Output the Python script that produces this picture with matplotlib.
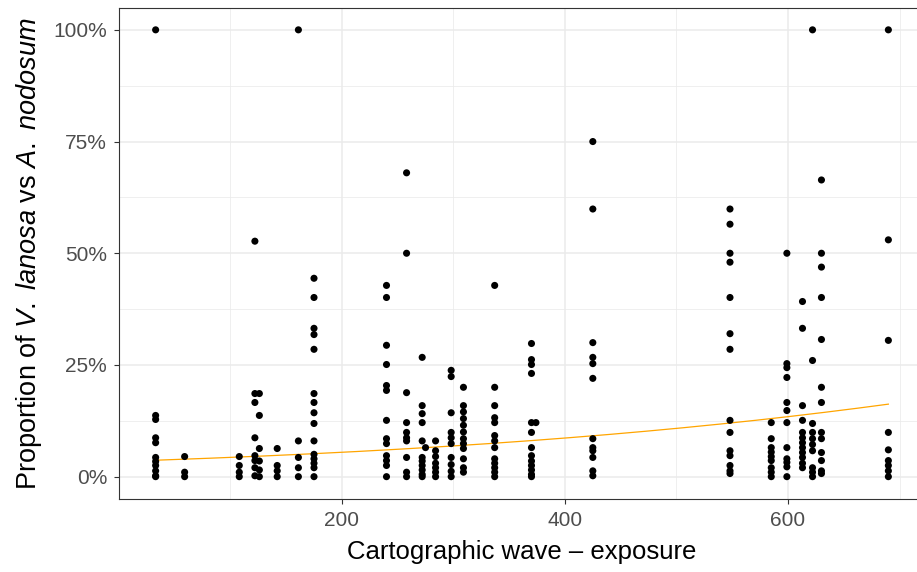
import numpy as np
import matplotlib
matplotlib.use("Agg")
import matplotlib.pyplot as plt
from matplotlib.ticker import FixedLocator, FuncFormatter

plt.rcParams['font.family'] = ['Liberation Sans', 'DejaVu Sans']
plt.rcParams['mathtext.fontset'] = 'custom'
plt.rcParams['mathtext.rm'] = 'Liberation Sans'
plt.rcParams['mathtext.it'] = 'Liberation Sans:italic'

# exposure value of each site and the proportions (%) observed at it
site_exposure = [33, 59, 108, 122, 126, 142, 161, 175, 240, 258, 272, 275, 284, 298,
                 309, 337, 370, 374, 425, 548, 585, 599, 613, 622, 630, 690]
site_props = [
    [100, 13.7, 12.8, 8.7, 7.6, 4.3, 3.4, 2.5, 1.3, 0.2, 0],
    [4.5, 1, 0],
    [4.5, 2.5, 1, 0],
    [52.7, 18.6, 16.6, 8.7, 4.7, 3.6, 2, 0.2],
    [18.6, 13.7, 6.3, 3.5, 1.5, 0],
    [6.3, 2.5, 1.3, 0],
    [100, 8, 4.3, 2, 0],
    [44.4, 40.1, 33.2, 31.8, 28.5, 18.6, 16.6, 14.3, 11.9, 8, 5, 4, 3, 2, 0],
    [42.8, 40.1, 29.4, 25.1, 20.4, 19.3, 12.6, 8.5, 7.4, 4.7, 3.6, 2.5, 0],
    [68, 50, 18.8, 12.1, 9.9, 8.7, 8, 4.3, 1, 0],
    [26.7, 15.9, 14.1, 12.1, 8, 4.3, 3.5, 2.5, 1.5, 0.5, 0],
    [6.5],
    [8, 5.8, 4.5, 3, 2, 1, 0],
    [23.8, 22.4, 14.3, 9.9, 8.7, 7.4, 4.3, 2.7, 1.2, 0],
    [20, 15.9, 14.5, 13, 11.5, 10, 8.5, 7.4, 6.3, 4, 2, 1],
    [42.8, 20, 15.9, 13.2, 12.1, 9.2, 8, 6.5, 4, 3, 2, 1, 0],
    [29.8, 26.2, 25.1, 23.1, 12.1, 9.9, 6.5, 4.7, 3.5, 2.5, 1.5, 0.5, 0],
    [12.1],
    [75, 59.9, 30, 26.7, 25.3, 22, 8.5, 6.5, 5.8, 4.3, 1.3, 0.2],
    [59.9, 56.5, 50, 48, 40.1, 32, 28.5, 12.6, 9.9, 5.8, 4.7, 2.5, 1.3, 0.7],
    [12.1, 8.5, 6.5, 5.5, 4.5, 3.6, 2, 1, 0],
    [50, 25.3, 24.4, 22.2, 16.6, 14.8, 12.1, 6.5, 4, 3.2, 2.2, 0],
    [39.2, 33.2, 15.9, 12.6, 9.9, 8.7, 7.6, 6.5, 5.4, 4.3, 3, 2],
    [100, 26, 11.9, 9.9, 8.5, 7.2, 5.8, 2, 1, 0],
    [66.4, 50, 46.9, 40.1, 30.7, 20, 16.6, 9.9, 8.5, 5.4, 3.6, 1.3, 0.7],
    [100, 53, 30.5, 9.9, 6, 3.6, 2.5, 1.3, 0],
]

# logistic fit (binomial GLM) coefficients
fit_intercept = -3.347
fit_slope = 0.002472

x_ticks = [200, 400, 600]
x_minor = [100, 300, 500, 700]
y_ticks = [0, 25, 50, 75, 100]
y_minor = [12.5, 37.5, 62.5, 87.5]

xs = np.concatenate([[x] * len(p) for x, p in zip(site_exposure, site_props)])
ys = np.concatenate([p for p in site_props]) / 100.0

W, H = 917, 572
fig = plt.figure(figsize=(W / 100, H / 100), dpi=100)
left, right, top, bottom = 119, 925, 7.5, 499
ax = fig.add_axes([left / W, 1 - bottom / H, (right - left) / W, (bottom - top) / H])

xmin, xmax = min(site_exposure), max(site_exposure)
rng = xmax - xmin
ax.set_xlim(xmin - 0.05 * rng, xmax + 0.05 * rng)
ax.set_ylim(-0.05, 1.05)

ax.xaxis.set_major_locator(FixedLocator(x_ticks))
ax.xaxis.set_minor_locator(FixedLocator(x_minor))
ax.yaxis.set_major_locator(FixedLocator([v / 100 for v in y_ticks]))
ax.yaxis.set_minor_locator(FixedLocator([v / 100 for v in y_minor]))
ax.yaxis.set_major_formatter(FuncFormatter(lambda v, p: f"{v * 100:.0f}%"))

ax.grid(which='major', color='#EBEBEB', linewidth=1.1)
ax.grid(which='minor', color='#EBEBEB', linewidth=0.55)
ax.set_axisbelow(True)
ax.tick_params(which='minor', length=0)
ax.tick_params(which='major', length=3.5, width=0.8, color='#333333',
               labelcolor='#4D4D4D', labelsize=15, pad=5)
for s in ax.spines.values():
    s.set_color('#333333')
    s.set_linewidth(0.8)

xx = np.linspace(xmin, xmax, 300)
yy = 1 / (1 + np.exp(-(fit_intercept + fit_slope * xx)))
ax.plot(xx, yy, color='#FFA500', linewidth=0.9, zorder=2)
ax.scatter(xs, ys, s=26, color='black', edgecolors='none', zorder=3)

ax.set_xlabel('Cartographic wave – exposure', fontsize=18.5, color='black', labelpad=7)
ax.set_ylabel(r'Proportion of $\it{V.\ lanosa}$ vs $\it{A.\ nodosum}$',
              fontsize=19.5, color='black', labelpad=7)

fig.savefig('out.png', dpi=100)
